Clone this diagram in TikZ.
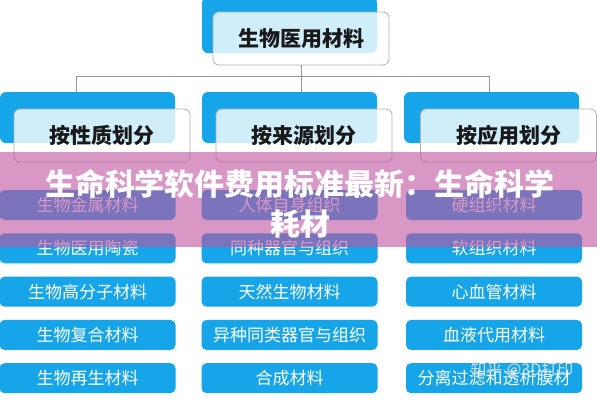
\documentclass[tikz,border=0pt]{standalone}
\usepackage{fontspec}
\setmainfont{Noto Sans CJK SC}
\usetikzlibrary{positioning}
\definecolor{boxblue}{RGB}{22,165,232}
\definecolor{linkgray}{RGB}{150,150,150}
\definecolor{bandpink}{RGB}{191,82,158}
\definecolor{headtext}{RGB}{25,25,25}

\begin{document}
\begin{tikzpicture}[x=1pt, y=-1pt,
  every node/.style={inner sep=0pt, outer sep=0pt},
  backbox/.style={fill=boxblue, rounded corners=6pt, minimum width=175pt, minimum height=51pt},
  frontbox/.style={draw=gray!60, line width=0.8pt, fill=white, fill opacity=0.8, text opacity=1,
    rounded corners=6pt, minimum width=176pt, minimum height=53pt,
    font=\fontsize{21}{21}\selectfont\bfseries, text=headtext},
  leaf/.style={fill=boxblue, rounded corners=5pt, minimum width=176pt, minimum height=30pt,
    text=white, font=\fontsize{17}{17}\selectfont},
  link/.style={draw=linkgray, line width=0.9pt},
  titletext/.style={text=white, font=\fontsize{30}{30}\selectfont\bfseries}]
 \fill[white] (0,0) rectangle (597,400);
 \useasboundingbox (0,0) rectangle (597,400);
 % root
 \node[backbox, minimum height=56pt] (rootback) at (289.5,25) {};
 \node[frontbox] (root) at (301,38.5) {生物医用材料};
 % categories
 \node[backbox] (catAback) at (87.5,117.5) {};
 \node[frontbox] (catA) at (102,135.5) {按性质划分};
 \node[backbox] (catBback) at (289.5,117.5) {};
 \node[frontbox] (catB) at (304,135.5) {按来源划分};
 \node[backbox] (catCback) at (491.5,117.5) {};
 \node[frontbox] (catC) at (508.5,135.5) {按应用划分};
 % connectors
 \coordinate (busA) at (76,76);
 \coordinate (busC) at (489,76);
 \draw[link] (root.south) |- (busA) -- (busA |- catAback.north);
 \draw[link] (busA) -- (busC) -- (busC |- catCback.north);
 \draw[link] (root.south) -- (root.south |- catBback.north);
 % leaves
 \foreach \name [count=\i] in {生物金属材料, 生物医用陶瓷, 生物高分子材料, 生物复合材料, 生物再生材料}
  \node[leaf] (leafA\i) at (87.5,161.7+43.3*\i) {\name};
 \foreach \name [count=\i] in {人体自身组织, 同种器官与组织, 天然生物材料, 异种同类器官与组织, 合成材料}
  \node[leaf] (leafB\i) at (289.5,161.7+43.3*\i) {\name};
 \foreach \name [count=\i] in {硬组织材料, 软组织材料, 心血管材料, 血液代用材料, 分离过滤和透析膜材}
  \node[leaf] (leafC\i) at (494,161.7+43.3*\i) {\name};
 % overlay band and title
 \fill[bandpink, fill opacity=0.6] (0,152) rectangle (597,247);
 \node[titletext] (title1) at (300,184) {生命科学软件费用标准最新：生命科学};
 \node[titletext, below=11pt of title1] (title2) {耗材};
 % watermark
 \node[text=gray!20, text opacity=0.9, font=\fontsize{16}{16}\selectfont] (mark) at (522,370) {知乎 @3D打印};
\end{tikzpicture}
\end{document}
